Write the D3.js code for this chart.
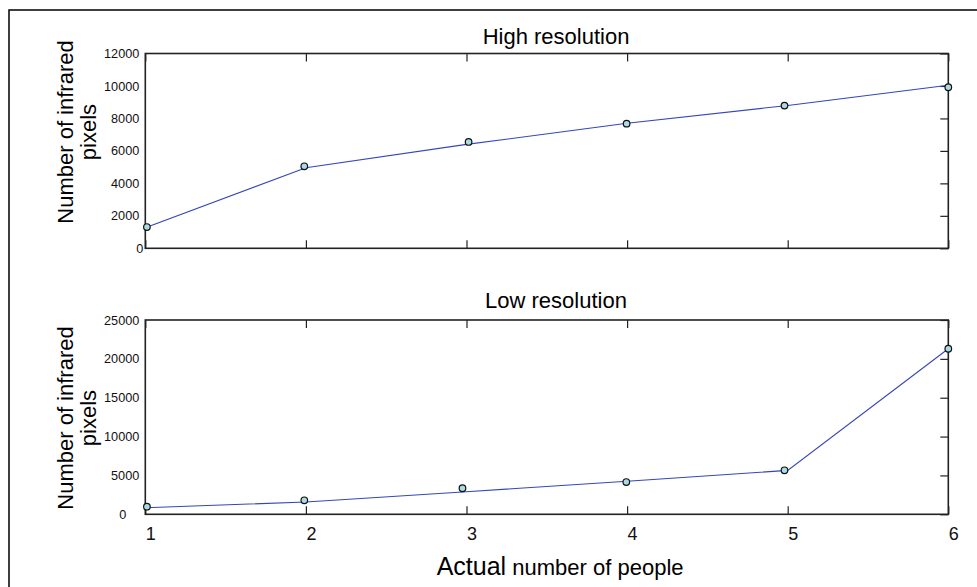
<!DOCTYPE html>
<html>
<head>
    <meta charset="utf-8">
    <title>Infrared pixels vs people</title>
    <script src="https://cdnjs.cloudflare.com/ajax/libs/d3/7.8.5/d3.min.js"></script>
    <style>
        body { margin: 0; background: #fff; }
        svg { font-family: "Liberation Sans", Arial, Helvetica, sans-serif; }
        .frame { fill: none; stroke: #000; stroke-width: 1.5; }
        .axis path { display: none; }
        .axis line { stroke: #222; stroke-width: 1.2; }
        .axis text { fill: #111; }
        .box { fill: none; stroke: #222; stroke-width: 1.6; }
        .line { fill: none; stroke: #3446bc; stroke-width: 1.1; }
        .dot { fill: #a9dbe0; stroke: #111; stroke-width: 1.2; }
    </style>
</head>

<body>

<script type="text/javascript">
    var people = [1, 2, 3, 4, 5, 6];

    // high resolution panel
    var highLine = [1270, 4960, 6400, 7700, 8800, 10040];
    var highDotX = [1.01, 1.99, 3.013, 3.997, 4.98, 6];
    var highDotY = [1310, 5050, 6550, 7680, 8790, 9920];
    var highTicks = [0, 2000, 4000, 6000, 8000, 10000, 12000];

    // low resolution panel
    var lowLine = [850, 1580, 2900, 4250, 5650, 21300];
    var lowDotX = [1.01, 1.99, 2.975, 3.995, 4.98, 6];
    var lowDotY = [980, 1800, 3350, 4150, 5660, 21300];
    var lowTicks = [0, 5000, 10000, 15000, 20000, 25000];

    var width = 977, height = 587,
        font = "Liberation Sans, Arial, Helvetica, sans-serif";

    var svg = d3.select("body").append("svg")
        .attr("width", width)
        .attr("height", height);

    // outer figure frame (only top and left edges fall inside the picture)
    svg.append("rect")
        .attr("class", "frame")
        .attr("x", 9)
        .attr("y", 10)
        .attr("width", 1000)
        .attr("height", 620);

    var xScale = d3.scaleLinear()
        .domain([1, 6])
        .range([145.3, 948.3]);

    function renderPanel(cfg) {
        var yScale = d3.scaleLinear()
            .domain([0, d3.max(cfg.ticks)])
            .range([cfg.bottom, cfg.top]);

        var g = svg.append("g");

        // inside ticks on top, bottom and right
        g.append("g")
            .attr("class", "axis")
            .attr("transform", "translate(0," + cfg.top + ")")
            .call(d3.axisTop(xScale).tickValues(people).tickSizeInner(-8).tickFormat(""));

        g.append("g")
            .attr("class", "axis")
            .attr("transform", "translate(0," + cfg.bottom + ")")
            .call(d3.axisBottom(xScale).tickValues(people).tickSizeInner(-8)
                .tickPadding(13)
                .tickFormat(cfg.xLabels ? d3.format("d") : ""))
            .attr("font-family", font)
            .attr("font-size", 18)
            .selectAll("text")
                .attr("dx", 5);

        g.append("g")
            .attr("class", "axis")
            .attr("transform", "translate(" + xScale.range()[1] + ",0)")
            .call(d3.axisRight(yScale).tickValues(cfg.ticks).tickSizeInner(-8).tickFormat(""));

        var yl = g.append("g")
            .attr("class", "axis")
            .attr("transform", "translate(" + xScale.range()[0] + ",0)")
            .call(d3.axisLeft(yScale).tickValues(cfg.ticks).tickSize(0).tickPadding(6)
                .tickFormat(d3.format("d")))
            .attr("font-family", font)
            .attr("font-size", 12.7);
        yl.selectAll(".tick")
            .filter(function (d) { return d === 0; })
            .select("text")
            .attr("dx", cfg.zeroDx);

        g.append("rect")
            .attr("class", "box")
            .attr("x", xScale.range()[0])
            .attr("y", cfg.top)
            .attr("width", xScale.range()[1] - xScale.range()[0])
            .attr("height", cfg.bottom - cfg.top);

        var line = d3.line()
            .x(function (d, i) { return xScale(people[i]); })
            .y(function (d) { return yScale(d); });

        g.append("path")
            .datum(cfg.line)
            .attr("class", "line")
            .attr("d", line);

        g.selectAll("circle")
            .data(cfg.dotY)
            .enter()
            .append("circle")
            .attr("class", "dot")
            .attr("cx", function (d, i) { return xScale(cfg.dotX[i]); })
            .attr("cy", function (d) { return yScale(d); })
            .attr("r", 3.3);

        g.append("text")
            .attr("x", 556)
            .attr("y", cfg.titleY)
            .attr("text-anchor", "middle")
            .style("font-size", "22px")
            .text(cfg.title);

        var ylab = g.append("text")
            .attr("transform", "translate(72.7," + cfg.labelY + ") rotate(-90)")
            .attr("text-anchor", "middle")
            .style("font-size", "22px");
        ylab.append("tspan").attr("x", 0).attr("dy", 0).text("Number of infrared");
        ylab.append("tspan").attr("x", 0).attr("dy", 23.3).text("pixels");
    }

    renderPanel({
        top: 53.5, bottom: 248.3, ticks: highTicks,
        line: highLine, dotX: highDotX, dotY: highDotY,
        title: "High resolution", titleY: 44, labelY: 132,
        xLabels: false, zeroDx: 4
    });

    renderPanel({
        top: 320, bottom: 514.3, ticks: lowTicks,
        line: lowLine, dotX: lowDotX, dotY: lowDotY,
        title: "Low resolution", titleY: 308.3, labelY: 418,
        xLabels: true, zeroDx: -13
    });

    var xl = svg.append("text")
        .attr("x", 436.7)
        .attr("y", 575);
    xl.append("tspan").style("font-size", "25px").text("Actual");
    xl.append("tspan").style("font-size", "22px").text(" number of people");
</script>

</body>

</html>
